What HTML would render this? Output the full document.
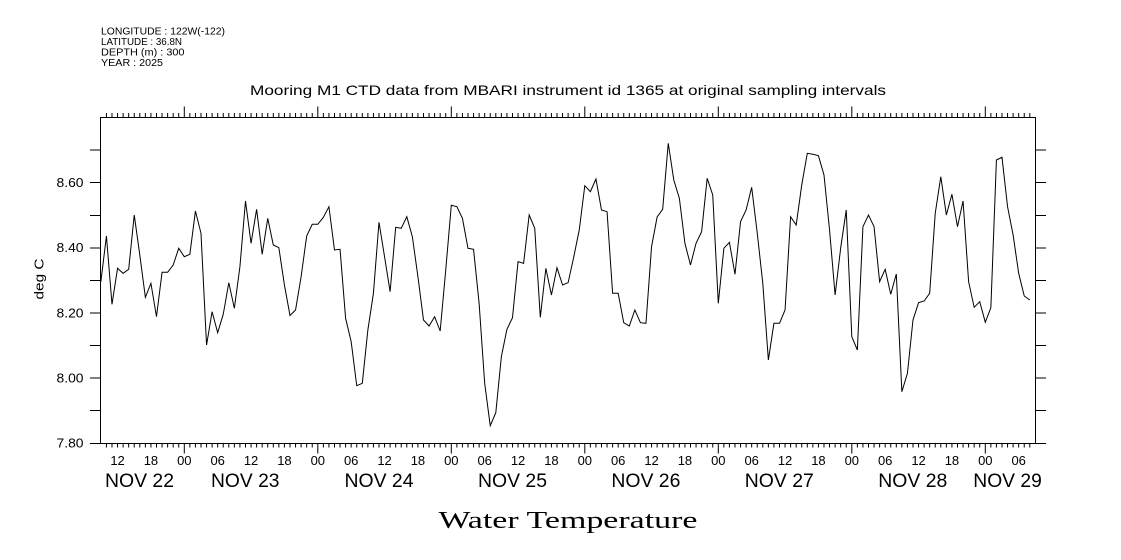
<!DOCTYPE html>
<html>
<head>
<meta charset="utf-8">
<style>
  html, body { margin: 0; padding: 0; background: #ffffff; }
  body { width: 1121px; height: 560px; overflow: hidden; }
  svg { display: block; }
  text { font-family: "Liberation Sans", "DejaVu Sans", sans-serif; fill: #000; }
</style>
</head>
<body>
<svg width="1121" height="560" viewBox="0 0 1121 560" xmlns="http://www.w3.org/2000/svg">
  <rect x="0" y="0" width="1121" height="560" fill="#ffffff"/>

  <!-- header -->
  <text x="101" y="34.5" font-size="10" textLength="124" lengthAdjust="spacingAndGlyphs">LONGITUDE : 122W(-122)</text>
  <text x="101" y="45" font-size="10" textLength="81" lengthAdjust="spacingAndGlyphs">LATITUDE : 36.8N</text>
  <text x="101" y="55.5" font-size="10" textLength="83.5" lengthAdjust="spacingAndGlyphs">DEPTH (m) : 300</text>
  <text x="101" y="66" font-size="10" textLength="62" lengthAdjust="spacingAndGlyphs">YEAR : 2025</text>

  <text x="250" y="95" font-size="14" textLength="636" lengthAdjust="spacingAndGlyphs">Mooring M1 CTD data from MBARI instrument id 1365 at original sampling intervals</text>

  <!-- frame -->
  <rect x="100.5" y="117.5" width="935" height="326" fill="none" stroke="#000" stroke-width="1" shape-rendering="crispEdges"/>

  <!-- y ticks left and right -->
  <g stroke="#000" stroke-width="1" shape-rendering="crispEdges">
    <path d="M90 443.5H100.5 M90 410.5H100.5 M90 378H100.5 M90 345.5H100.5 M90 313H100.5 M90 280.5H100.5 M90 248H100.5 M90 215.5H100.5 M90 182.5H100.5 M90 150H100.5"/>
    <path d="M1035.5 443.5H1046 M1035.5 410.5H1046 M1035.5 378H1046 M1035.5 345.5H1046 M1035.5 313H1046 M1035.5 280.5H1046 M1035.5 248H1046 M1035.5 215.5H1046 M1035.5 182.5H1046 M1035.5 150H1046"/>
  </g>

  <!-- y labels -->
  <g font-size="13" text-anchor="end">
    <text x="83.5" y="447.5" textLength="27" lengthAdjust="spacingAndGlyphs">7.80</text>
    <text x="83.5" y="382.5" textLength="27" lengthAdjust="spacingAndGlyphs">8.00</text>
    <text x="83.5" y="317.5" textLength="27" lengthAdjust="spacingAndGlyphs">8.20</text>
    <text x="83.5" y="252" textLength="27" lengthAdjust="spacingAndGlyphs">8.40</text>
    <text x="83.5" y="187" textLength="27" lengthAdjust="spacingAndGlyphs">8.60</text>
  </g>
  <text transform="translate(43.5,279) rotate(-90)" font-size="13" text-anchor="middle" textLength="41" lengthAdjust="spacingAndGlyphs">deg C</text>

  <!-- x ticks (hourly) in scaled coordinates: x = 184.3 + 5.5625*k -->
  <g transform="translate(184.3,0) scale(5.5625,1)">
    <path fill="none" stroke="#000" stroke-width="1" vector-effect="non-scaling-stroke" d="
M-14 117.5V113 M-13 117.5V113 M-12 117.5V113 M-11 117.5V113 M-10 117.5V113 M-9 117.5V113 M-8 117.5V113 M-7 117.5V113 M-6 117.5V113 M-5 117.5V113 M-4 117.5V113 M-3 117.5V113 M-2 117.5V113 M-1 117.5V113
M1 117.5V113 M2 117.5V113 M3 117.5V113 M4 117.5V113 M5 117.5V113 M6 117.5V113 M7 117.5V113 M8 117.5V113 M9 117.5V113 M10 117.5V113 M11 117.5V113 M12 117.5V113 M13 117.5V113 M14 117.5V113 M15 117.5V113 M16 117.5V113 M17 117.5V113 M18 117.5V113 M19 117.5V113 M20 117.5V113 M21 117.5V113 M22 117.5V113 M23 117.5V113
M25 117.5V113 M26 117.5V113 M27 117.5V113 M28 117.5V113 M29 117.5V113 M30 117.5V113 M31 117.5V113 M32 117.5V113 M33 117.5V113 M34 117.5V113 M35 117.5V113 M36 117.5V113 M37 117.5V113 M38 117.5V113 M39 117.5V113 M40 117.5V113 M41 117.5V113 M42 117.5V113 M43 117.5V113 M44 117.5V113 M45 117.5V113 M46 117.5V113 M47 117.5V113
M49 117.5V113 M50 117.5V113 M51 117.5V113 M52 117.5V113 M53 117.5V113 M54 117.5V113 M55 117.5V113 M56 117.5V113 M57 117.5V113 M58 117.5V113 M59 117.5V113 M60 117.5V113 M61 117.5V113 M62 117.5V113 M63 117.5V113 M64 117.5V113 M65 117.5V113 M66 117.5V113 M67 117.5V113 M68 117.5V113 M69 117.5V113 M70 117.5V113 M71 117.5V113
M73 117.5V113 M74 117.5V113 M75 117.5V113 M76 117.5V113 M77 117.5V113 M78 117.5V113 M79 117.5V113 M80 117.5V113 M81 117.5V113 M82 117.5V113 M83 117.5V113 M84 117.5V113 M85 117.5V113 M86 117.5V113 M87 117.5V113 M88 117.5V113 M89 117.5V113 M90 117.5V113 M91 117.5V113 M92 117.5V113 M93 117.5V113 M94 117.5V113 M95 117.5V113
M97 117.5V113 M98 117.5V113 M99 117.5V113 M100 117.5V113 M101 117.5V113 M102 117.5V113 M103 117.5V113 M104 117.5V113 M105 117.5V113 M106 117.5V113 M107 117.5V113 M108 117.5V113 M109 117.5V113 M110 117.5V113 M111 117.5V113 M112 117.5V113 M113 117.5V113 M114 117.5V113 M115 117.5V113 M116 117.5V113 M117 117.5V113 M118 117.5V113 M119 117.5V113
M121 117.5V113 M122 117.5V113 M123 117.5V113 M124 117.5V113 M125 117.5V113 M126 117.5V113 M127 117.5V113 M128 117.5V113 M129 117.5V113 M130 117.5V113 M131 117.5V113 M132 117.5V113 M133 117.5V113 M134 117.5V113 M135 117.5V113 M136 117.5V113 M137 117.5V113 M138 117.5V113 M139 117.5V113 M140 117.5V113 M141 117.5V113 M142 117.5V113 M143 117.5V113
M145 117.5V113 M146 117.5V113 M147 117.5V113 M148 117.5V113 M149 117.5V113 M150 117.5V113 M151 117.5V113 M152 117.5V113
M0 117.5V106.5 M24 117.5V106.5 M48 117.5V106.5 M72 117.5V106.5 M96 117.5V106.5 M120 117.5V106.5 M144 117.5V106.5
M-14 443.5V447.5 M-13 443.5V447.5 M-12 443.5V447.5 M-11 443.5V447.5 M-10 443.5V447.5 M-9 443.5V447.5 M-8 443.5V447.5 M-7 443.5V447.5 M-6 443.5V447.5 M-5 443.5V447.5 M-4 443.5V447.5 M-3 443.5V447.5 M-2 443.5V447.5 M-1 443.5V447.5
M1 443.5V447.5 M2 443.5V447.5 M3 443.5V447.5 M4 443.5V447.5 M5 443.5V447.5 M6 443.5V447.5 M7 443.5V447.5 M8 443.5V447.5 M9 443.5V447.5 M10 443.5V447.5 M11 443.5V447.5 M12 443.5V447.5 M13 443.5V447.5 M14 443.5V447.5 M15 443.5V447.5 M16 443.5V447.5 M17 443.5V447.5 M18 443.5V447.5 M19 443.5V447.5 M20 443.5V447.5 M21 443.5V447.5 M22 443.5V447.5 M23 443.5V447.5
M25 443.5V447.5 M26 443.5V447.5 M27 443.5V447.5 M28 443.5V447.5 M29 443.5V447.5 M30 443.5V447.5 M31 443.5V447.5 M32 443.5V447.5 M33 443.5V447.5 M34 443.5V447.5 M35 443.5V447.5 M36 443.5V447.5 M37 443.5V447.5 M38 443.5V447.5 M39 443.5V447.5 M40 443.5V447.5 M41 443.5V447.5 M42 443.5V447.5 M43 443.5V447.5 M44 443.5V447.5 M45 443.5V447.5 M46 443.5V447.5 M47 443.5V447.5
M49 443.5V447.5 M50 443.5V447.5 M51 443.5V447.5 M52 443.5V447.5 M53 443.5V447.5 M54 443.5V447.5 M55 443.5V447.5 M56 443.5V447.5 M57 443.5V447.5 M58 443.5V447.5 M59 443.5V447.5 M60 443.5V447.5 M61 443.5V447.5 M62 443.5V447.5 M63 443.5V447.5 M64 443.5V447.5 M65 443.5V447.5 M66 443.5V447.5 M67 443.5V447.5 M68 443.5V447.5 M69 443.5V447.5 M70 443.5V447.5 M71 443.5V447.5
M73 443.5V447.5 M74 443.5V447.5 M75 443.5V447.5 M76 443.5V447.5 M77 443.5V447.5 M78 443.5V447.5 M79 443.5V447.5 M80 443.5V447.5 M81 443.5V447.5 M82 443.5V447.5 M83 443.5V447.5 M84 443.5V447.5 M85 443.5V447.5 M86 443.5V447.5 M87 443.5V447.5 M88 443.5V447.5 M89 443.5V447.5 M90 443.5V447.5 M91 443.5V447.5 M92 443.5V447.5 M93 443.5V447.5 M94 443.5V447.5 M95 443.5V447.5
M97 443.5V447.5 M98 443.5V447.5 M99 443.5V447.5 M100 443.5V447.5 M101 443.5V447.5 M102 443.5V447.5 M103 443.5V447.5 M104 443.5V447.5 M105 443.5V447.5 M106 443.5V447.5 M107 443.5V447.5 M108 443.5V447.5 M109 443.5V447.5 M110 443.5V447.5 M111 443.5V447.5 M112 443.5V447.5 M113 443.5V447.5 M114 443.5V447.5 M115 443.5V447.5 M116 443.5V447.5 M117 443.5V447.5 M118 443.5V447.5 M119 443.5V447.5
M121 443.5V447.5 M122 443.5V447.5 M123 443.5V447.5 M124 443.5V447.5 M125 443.5V447.5 M126 443.5V447.5 M127 443.5V447.5 M128 443.5V447.5 M129 443.5V447.5 M130 443.5V447.5 M131 443.5V447.5 M132 443.5V447.5 M133 443.5V447.5 M134 443.5V447.5 M135 443.5V447.5 M136 443.5V447.5 M137 443.5V447.5 M138 443.5V447.5 M139 443.5V447.5 M140 443.5V447.5 M141 443.5V447.5 M142 443.5V447.5 M143 443.5V447.5
M145 443.5V447.5 M146 443.5V447.5 M147 443.5V447.5 M148 443.5V447.5 M149 443.5V447.5 M150 443.5V447.5 M151 443.5V447.5 M152 443.5V447.5
M0 443.5V453.5 M24 443.5V453.5 M48 443.5V453.5 M72 443.5V453.5 M96 443.5V453.5 M120 443.5V453.5 M144 443.5V453.5"/>

    <!-- data series -->
    <polyline fill="none" stroke="#000" stroke-width="1" vector-effect="non-scaling-stroke" stroke-linejoin="miter" points="
-15,281.7 -14,236 -13,304.3 -12,268.3 -11,273.3 -10,269.3 -9,215 -8,255 -7,297.3 -6,283.3 -5,316.7 -4,272.3 -3,272.3 -2,265 -1,248.3
0,256.7 1,254.3 2,211 3,233.3 4,345 5,311.7 6,332.7 7,314.3 8,282.7 9,308.3 10,266.7 11,201 12,243.3 13,209.3 14,254.3 15,218.3 16,245 17,247.7 18,285 19,315.5 20,310 21,276.7 22,236 23,224.3
24,224.3 25,217.3 26,206.7 27,250 28,249.3 29,318.3 30,341.7 31,385.7 32,383.3 33,330 34,293.3 35,222.3 36,256.7 37,291.7 38,227.3 39,228.3 40,216.7 41,236.7 42,276.7 43,320 44,326 45,316.7 46,331 47,270
48,205.3 49,206.7 50,218.3 51,248.3 52,249.3 53,303.3 54,383.3 55,425.7 56,412.7 57,356.7 58,329.3 59,317.7 60,261.7 61,263.3 62,215 63,228.3 64,317.3 65,268.3 66,295 67,267.7 68,285 69,282.7 70,257.3 71,230
72,185.7 73,191.7 74,179 75,210 76,211.7 77,293.3 78,293.3 79,322.7 80,326 81,310 82,322.7 83,323.3 84,246.7 85,217 86,209.3 87,143.3 88,180 89,198.3 90,243.3 91,265 92,243.3 93,231.7 94,178.3 95,195
96,303.3 97,248.3 98,242.3 99,274.3 100,221.7 101,210 102,187.3 103,233 104,283.3 105,360 106,323.3 107,323.3 108,310 109,216.7 110,225 111,185 112,153.3 113,154.3 114,155.7 115,175 116,230 117,295 118,248 119,210
120,336.7 121,350 122,226.7 123,215 124,226.7 125,281.7 126,269.3 127,294.3 128,274 129,391.7 130,373.3 131,320 132,302.7 133,301 134,293.3 135,213.3 136,176.7 137,215 138,194.3 139,226.7 140,201 141,281.7 142,307.3 143,301.7
144,322.3 145,307.7 146,160 147,157.3 148,206.7 149,235 150,273.3 151,296 152,300"/>
  </g>

  <!-- hour labels -->
  <g font-size="13" text-anchor="middle">
    <text x="117.55" y="465">12</text>
    <text x="150.93" y="465">18</text>
    <text x="184.3" y="465">00</text>
    <text x="217.68" y="465">06</text>
    <text x="251.05" y="465">12</text>
    <text x="284.43" y="465">18</text>
    <text x="317.8" y="465">00</text>
    <text x="351.18" y="465">06</text>
    <text x="384.55" y="465">12</text>
    <text x="417.93" y="465">18</text>
    <text x="451.3" y="465">00</text>
    <text x="484.68" y="465">06</text>
    <text x="518.05" y="465">12</text>
    <text x="551.43" y="465">18</text>
    <text x="584.8" y="465">00</text>
    <text x="618.18" y="465">06</text>
    <text x="651.55" y="465">12</text>
    <text x="684.93" y="465">18</text>
    <text x="718.3" y="465">00</text>
    <text x="751.68" y="465">06</text>
    <text x="785.05" y="465">12</text>
    <text x="818.43" y="465">18</text>
    <text x="851.8" y="465">00</text>
    <text x="885.18" y="465">06</text>
    <text x="918.55" y="465">12</text>
    <text x="951.93" y="465">18</text>
    <text x="985.3" y="465">00</text>
    <text x="1018.68" y="465">06</text>
  </g>

  <!-- day labels -->
  <g font-size="19">
    <text x="105" y="487" textLength="69" lengthAdjust="spacingAndGlyphs">NOV 22</text>
    <text x="211" y="487" textLength="68.5" lengthAdjust="spacingAndGlyphs">NOV 23</text>
    <text x="344.5" y="487" textLength="69" lengthAdjust="spacingAndGlyphs">NOV 24</text>
    <text x="478" y="487" textLength="69" lengthAdjust="spacingAndGlyphs">NOV 25</text>
    <text x="611.4" y="487" textLength="69" lengthAdjust="spacingAndGlyphs">NOV 26</text>
    <text x="744.8" y="487" textLength="69" lengthAdjust="spacingAndGlyphs">NOV 27</text>
    <text x="878.3" y="487" textLength="69" lengthAdjust="spacingAndGlyphs">NOV 28</text>
    <text x="973.3" y="487" textLength="68.5" lengthAdjust="spacingAndGlyphs">NOV 29</text>
  </g>

  <text x="438.5" y="528" font-size="24" style="font-family: 'Liberation Serif', 'DejaVu Serif', serif;" textLength="259" lengthAdjust="spacingAndGlyphs">Water Temperature</text>
</svg>
</body>
</html>
